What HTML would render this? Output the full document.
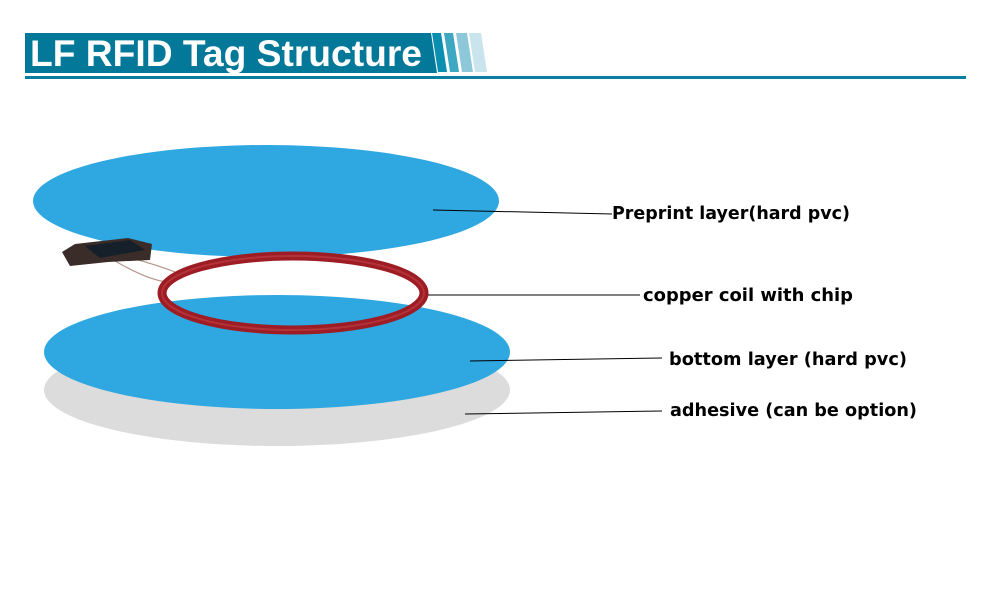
<!DOCTYPE html>
<html><head><meta charset="utf-8"><style>
html,body{margin:0;padding:0;background:#fff;}
svg{display:block;}
</style></head><body>
<svg width="991" height="595" viewBox="0 0 991 595" xmlns="http://www.w3.org/2000/svg">
<rect width="991" height="595" fill="#fff"/>
<polygon points="25,33 431,33 437,73 25,73" fill="#037898"/>
<polygon points="432,33 441,33 447,72 438,72" fill="#0a8fb0"/>
<polygon points="444,33 453,33 459,72 450,72" fill="#3ea8c2"/>
<polygon points="456,33 467,33 473,72 462,72" fill="#8cc8da"/>
<polygon points="469,33 481,33 487,72 475,72" fill="#c9e4ed"/>
<text x="30" y="66" style="font-family:'Liberation Sans',sans-serif;font-weight:bold;font-size:37px" fill="#fff" textLength="392" lengthAdjust="spacingAndGlyphs">LF RFID Tag Structure</text>
<rect x="25" y="76" width="941" height="3" fill="#0a7ea0"/>
<ellipse cx="277" cy="390" rx="233" ry="56" fill="#dcdcdc"/>
<ellipse cx="266" cy="201" rx="233" ry="56" fill="#2fa7e0"/>
<ellipse cx="277" cy="352" rx="233" ry="57" fill="#2fa7e0"/>
<path d="M100,250 Q150,262 175,272 M110,258 Q150,282 170,282" stroke="#b8958a" stroke-width="1.2" fill="none"/>
<polygon points="62,252 75,244 128,238 152,244 150,260 108,262 70,266" fill="#3a2c28"/>
<polygon points="85,246 130,240 145,250 100,258" fill="#15202a"/>
<ellipse cx="293" cy="293" rx="131" ry="37" fill="none" stroke="#9e1c24" stroke-width="9"/>
<ellipse cx="293" cy="293" rx="131" ry="37" fill="none" stroke="#c0424a" stroke-width="2" opacity="0.6"/>
<g stroke="#000" stroke-width="1">
<line x1="433" y1="210" x2="612" y2="214"/>
<line x1="428" y1="295" x2="640" y2="295"/>
<line x1="470" y1="361" x2="662" y2="358"/>
<line x1="465" y1="414" x2="662" y2="411"/>
</g>
<g style="font-family:'DejaVu Sans','Liberation Sans',sans-serif;font-weight:bold;font-size:17.5px" fill="#000">
<text x="612" y="219" textLength="238" lengthAdjust="spacingAndGlyphs">Preprint layer(hard pvc)</text>
<text x="643" y="301" textLength="210" lengthAdjust="spacingAndGlyphs">copper coil with chip</text>
<text x="669" y="365" textLength="238" lengthAdjust="spacingAndGlyphs">bottom layer (hard pvc)</text>
<text x="670" y="416" textLength="247" lengthAdjust="spacingAndGlyphs">adhesive (can be option)</text>
</g>
</svg>
</body></html>
